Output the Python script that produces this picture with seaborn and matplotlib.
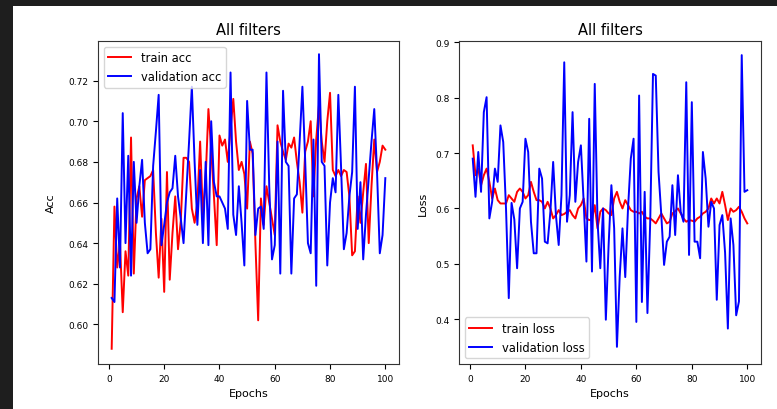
import matplotlib
matplotlib.use("Agg")
import matplotlib.pyplot as plt
from matplotlib.patches import Rectangle
import seaborn as sns
import numpy as np

epochs = list(range(1, 101))

train_acc = [
    0.588, 0.658, 0.628, 0.640, 0.606, 0.636, 0.624, 0.692, 0.625, 0.662,
    0.668, 0.653, 0.671, 0.672, 0.673, 0.676, 0.645, 0.623, 0.652, 0.616,
    0.675, 0.622, 0.645, 0.663, 0.637, 0.651, 0.682, 0.682, 0.680, 0.657,
    0.650, 0.660, 0.690, 0.654, 0.672, 0.706, 0.686, 0.663, 0.639, 0.693,
    0.688, 0.691, 0.680, 0.696, 0.711, 0.690, 0.676, 0.680, 0.674, 0.657,
    0.690, 0.684, 0.640, 0.602, 0.662, 0.649, 0.668, 0.660, 0.652, 0.644,
    0.698, 0.690, 0.685, 0.681, 0.689, 0.687, 0.692, 0.680, 0.670, 0.655,
    0.685, 0.690, 0.700, 0.663, 0.691, 0.708, 0.690, 0.680, 0.700, 0.714,
    0.676, 0.673, 0.676, 0.673, 0.676, 0.675, 0.663, 0.634, 0.636, 0.663,
    0.650, 0.665, 0.679, 0.640, 0.668, 0.691, 0.675, 0.680, 0.688, 0.686,
]

val_acc = [
    0.613, 0.611, 0.662, 0.628, 0.704, 0.640, 0.683, 0.624, 0.680, 0.650,
    0.668, 0.681, 0.650, 0.635, 0.637, 0.678, 0.695, 0.713, 0.639, 0.649,
    0.660, 0.665, 0.667, 0.683, 0.663, 0.652, 0.640, 0.665, 0.690, 0.717,
    0.680, 0.649, 0.676, 0.640, 0.680, 0.639, 0.700, 0.670, 0.663, 0.663,
    0.660, 0.657, 0.647, 0.724, 0.654, 0.644, 0.668, 0.650, 0.629, 0.710,
    0.686, 0.686, 0.644, 0.657, 0.658, 0.647, 0.724, 0.668, 0.632, 0.639,
    0.690, 0.625, 0.715, 0.680, 0.678, 0.625, 0.662, 0.664, 0.690, 0.717,
    0.681, 0.640, 0.635, 0.691, 0.619, 0.733, 0.680, 0.678, 0.629, 0.660,
    0.672, 0.665, 0.713, 0.677, 0.637, 0.645, 0.663, 0.675, 0.717, 0.647,
    0.670, 0.632, 0.654, 0.672, 0.690, 0.706, 0.675, 0.635, 0.644, 0.672,
]

train_loss = [
    0.714, 0.660, 0.672, 0.642, 0.660, 0.672, 0.648, 0.618, 0.636, 0.615,
    0.609, 0.609, 0.609, 0.624, 0.618, 0.612, 0.630, 0.636, 0.630, 0.618,
    0.624, 0.648, 0.630, 0.615, 0.615, 0.612, 0.600, 0.612, 0.600, 0.582,
    0.588, 0.597, 0.588, 0.590, 0.594, 0.597, 0.588, 0.582, 0.600, 0.606,
    0.618, 0.582, 0.579, 0.580, 0.606, 0.564, 0.594, 0.600, 0.597, 0.591,
    0.588, 0.618, 0.630, 0.612, 0.600, 0.615, 0.606, 0.597, 0.594, 0.594,
    0.591, 0.594, 0.585, 0.582, 0.582, 0.578, 0.573, 0.582, 0.591, 0.582,
    0.573, 0.576, 0.591, 0.595, 0.600, 0.591, 0.582, 0.576, 0.579, 0.578,
    0.576, 0.582, 0.585, 0.591, 0.594, 0.600, 0.618, 0.609, 0.618, 0.609,
    0.630, 0.606, 0.579, 0.600, 0.594, 0.597, 0.603, 0.594, 0.582, 0.573,
]

val_loss = [
    0.690, 0.621, 0.702, 0.630, 0.774, 0.801, 0.582, 0.612, 0.672, 0.648,
    0.750, 0.720, 0.600, 0.438, 0.610, 0.580, 0.492, 0.600, 0.612, 0.726,
    0.702, 0.576, 0.519, 0.519, 0.672, 0.654, 0.540, 0.537, 0.594, 0.684,
    0.588, 0.534, 0.624, 0.864, 0.576, 0.624, 0.774, 0.612, 0.684, 0.714,
    0.612, 0.504, 0.762, 0.486, 0.825, 0.576, 0.492, 0.600, 0.399, 0.534,
    0.642, 0.564, 0.350, 0.477, 0.564, 0.476, 0.600, 0.690, 0.726, 0.395,
    0.804, 0.431, 0.630, 0.411, 0.576, 0.843, 0.840, 0.666, 0.588, 0.498,
    0.540, 0.549, 0.642, 0.552, 0.660, 0.594, 0.576, 0.828, 0.516, 0.792,
    0.540, 0.540, 0.510, 0.702, 0.654, 0.567, 0.612, 0.600, 0.435, 0.570,
    0.588, 0.520, 0.383, 0.582, 0.534, 0.407, 0.432, 0.877, 0.630, 0.633,
]

title_text = "All filters"
xlabel_text = "Epochs"

W, H = 777, 410
fig = plt.figure(figsize=(W / 100, H / 100), dpi=100)
fig.patch.set_facecolor("white")

ax1 = fig.add_axes([98 / W, 1 - 365 / H, 301 / W, 323 / H])
ax2 = fig.add_axes([459 / W, 1 - 365 / H, 302 / W, 323 / H])

lw = 1.4
sns.lineplot(x=epochs, y=train_acc, ax=ax1, color="red", linewidth=lw, label="train acc")
sns.lineplot(x=epochs, y=val_acc, ax=ax1, color="blue", linewidth=lw, label="validation acc")
sns.lineplot(x=epochs, y=train_loss, ax=ax2, color="red", linewidth=lw, label="train loss")
sns.lineplot(x=epochs, y=val_loss, ax=ax2, color="blue", linewidth=lw, label="validation loss")

ax1.set_ylim(0.5805, 0.7395)
ax2.set_ylim(0.319, 0.9025)

for ax, ylab, loc, pad in [(ax1, "Acc", "upper left", 9), (ax2, "Loss", "lower left", 5)]:
    ax.set_title(title_text, fontsize=10.5, pad=5)
    ax.set_xlabel(xlabel_text, fontsize=8)
    ax.set_ylabel(ylab, fontsize=8, labelpad=pad)
    ax.tick_params(labelsize=6.5, length=3.5, width=0.8)
    ax.set_xticks([0, 20, 40, 60, 80, 100])
    ax.legend(loc=loc, fontsize=8.3, frameon=True)
    for s in ax.spines.values():
        s.set_linewidth(0.8)
        s.set_color("#333333")

# dark screenshot border (top and left)
fig.patches.append(Rectangle((0, 1 - 7 / H), 1, 7 / H, transform=fig.transFigure,
                             facecolor="#1e1e1e", edgecolor="none", zorder=10))
fig.patches.append(Rectangle((0, 0), 13 / W, 1, transform=fig.transFigure,
                             facecolor="#1e1e1e", edgecolor="none", zorder=10))

fig.savefig("out.png", dpi=100)
